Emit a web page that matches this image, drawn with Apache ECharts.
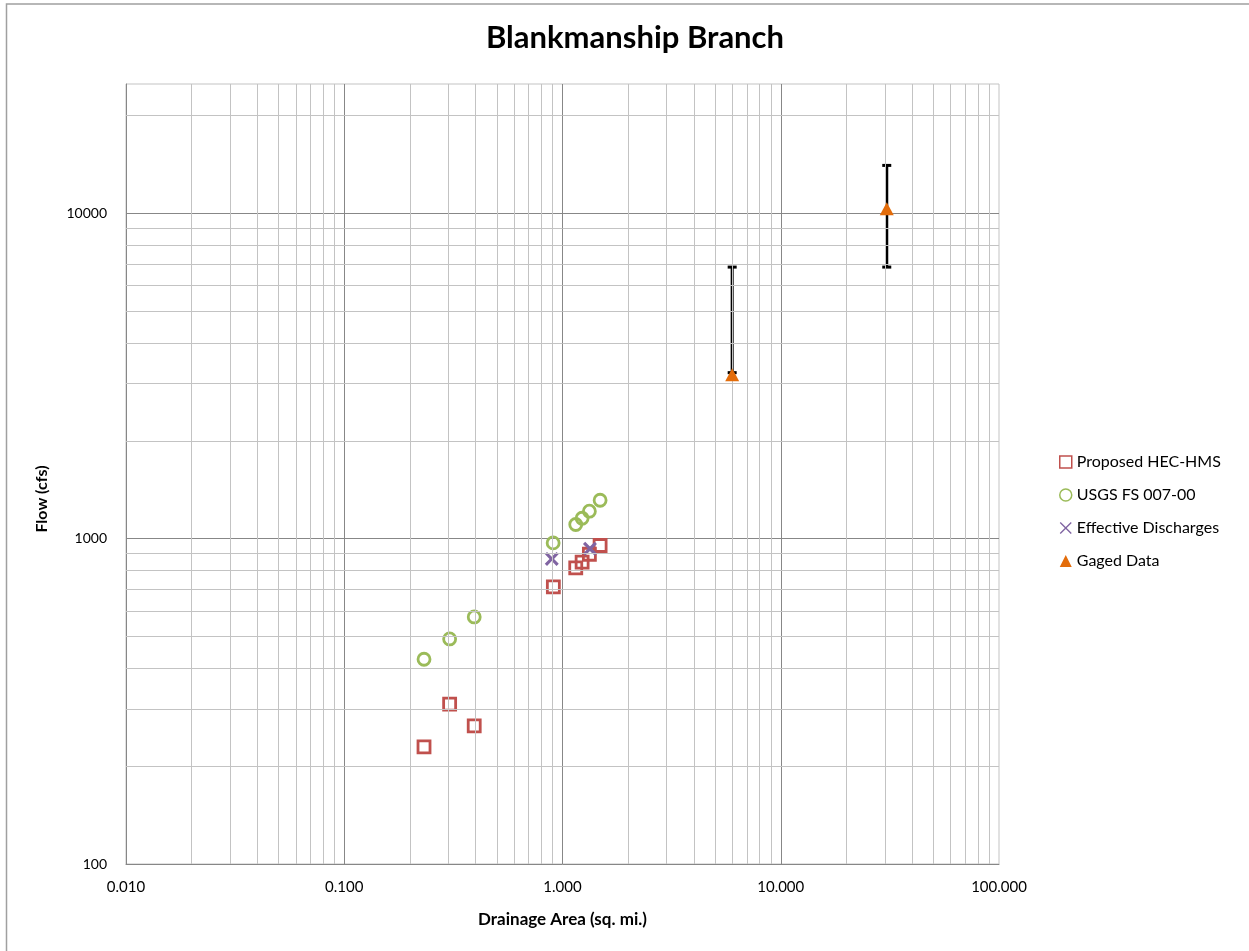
<!DOCTYPE html>
<html>
<head>
<meta charset="utf-8">
<script src="https://cdn.jsdelivr.net/npm/echarts@6/dist/echarts.min.js"></script>
<style>
  html, body { margin: 0; padding: 0; background: #fff; }
  #chart { width: 1249px; height: 951px; }
</style>
</head>
<body>
<div id="chart"></div>
<script>
// Drainage area (sq. mi.) vs. peak flow (cfs)
const proposedArea = [0.232, 0.304, 0.394, 0.908, 1.15, 1.23, 1.328, 1.487];
const proposedFlow = [229, 310, 266, 711, 813, 847, 896, 953];
const usgsArea = [0.232, 0.304, 0.394, 0.906, 1.15, 1.23, 1.328, 1.487];
const usgsFlow = [426, 492, 575, 971, 1106, 1156, 1215, 1313];
const effectiveArea = [0.893, 1.336];
const effectiveFlow = [867, 931];
const gagedArea = [5.99, 30.6];
const gagedFlow = [3195, 10340];
const gagedLow = [3240, 6840];
const gagedHigh = [6840, 14050];
const seriesNames = ['Proposed HEC-HMS', 'USGS FS 007-00', 'Effective Discharges', 'Gaged Data'];
const xMajorTicks = [0.01, 0.1, 1, 10, 100];
const yMajorTicks = [100, 1000, 10000];

const FONT = 'Lato, "Open Sans", sans-serif';
const RED = '#C0504D', GREEN = '#9BBB59', PURPLE = '#8064A2', ORANGE = '#E36C0A';
const MAJOR = '#878787', MINOR = '#C3C3C3';

function pairs(xs, ys) { return xs.map((x, i) => [x, ys[i]]); }

// Filled X-shaped path, arm thickness set by t (box 0..10)
function crossPath(t) {
  return 'path://M' + t + ',0L5,' + (5 - t) + 'L' + (10 - t) + ',0L10,' + t + 'L' + (5 + t) + ',5L10,' + (10 - t) +
    'L' + (10 - t) + ',10L5,' + (5 + t) + 'L' + t + ',10L0,' + (10 - t) + 'L' + (5 - t) + ',5L0,' + t + 'Z';
}

// Minor log gridlines at 2..9 of each decade
function minorLines(from, to, limit) {
  const out = [];
  for (let d = from; d <= to; d++) {
    for (let k = 2; k <= 9; k++) {
      const v = +(k * Math.pow(10, d)).toPrecision(6);
      if (v < limit) out.push(v);
    }
  }
  return out;
}
const xMinor = minorLines(-2, 1, 100);
const yMinor = minorLines(2, 4, 25000);

const chart = echarts.init(document.getElementById('chart'), null, { renderer: 'canvas' });

const option = {
  backgroundColor: '#fff',
  animation: false,
  textStyle: { fontFamily: FONT },
  title: {
    text: 'Blankmanship Branch',
    left: 630, top: 17, textAlign: 'center',
    textStyle: { fontFamily: FONT, fontSize: 31, fontWeight: 'bold', color: '#000' }
  },
  grid: {
    left: 126, right: 250, top: 84, bottom: 87,
    show: true, borderColor: MINOR, borderWidth: 1, backgroundColor: 'transparent'
  },
  legend: {
    orient: 'vertical', left: 1054, top: 449, itemGap: 17,
    itemWidth: 12, itemHeight: 12,
    textStyle: { fontFamily: FONT, fontSize: 16, color: '#000' },
    data: [
      { name: seriesNames[0], icon: 'rect', itemStyle: { color: 'transparent', borderColor: RED, borderWidth: 1.5, opacity: 1 } },
      { name: seriesNames[1], icon: 'circle', itemStyle: { color: 'transparent', borderColor: GREEN, borderWidth: 1.5, opacity: 1 } },
      { name: seriesNames[2], icon: crossPath(0.8), itemStyle: { color: PURPLE, borderWidth: 0, opacity: 1 } },
      { name: seriesNames[3], icon: 'triangle', itemStyle: { color: ORANGE, borderWidth: 0, opacity: 1 } }
    ],
    selectedMode: false
  },
  xAxis: {
    type: 'log', logBase: 10, min: 0.01, max: 100,
    name: 'Drainage Area (sq. mi.)', nameLocation: 'middle', nameGap: 47,
    nameTextStyle: { fontFamily: FONT, fontSize: 17, fontWeight: 'bold', color: '#000' },
    axisLine: { show: true, lineStyle: { color: MAJOR, width: 1 } },
    axisTick: { show: false },
    axisLabel: {
      margin: 16, fontFamily: FONT, fontSize: 15, color: '#000',
      formatter: v => (xMajorTicks.some(t => Math.abs(t - v) / t < 1e-6) ? v.toFixed(3) : '')
    },
    splitLine: { show: true, showMinLine: false, showMaxLine: false, lineStyle: { color: MAJOR, width: 1 } }
  },
  yAxis: {
    type: 'log', logBase: 10, min: 100, max: 25000,
    axisLine: { show: true, lineStyle: { color: MAJOR, width: 1 } },
    axisTick: { show: false },
    axisLabel: {
      margin: 19, fontFamily: FONT, fontSize: 14, color: '#000',
      formatter: v => (yMajorTicks.some(t => Math.abs(t - v) / t < 1e-6) ? String(Math.round(v)) : '')
    },
    splitLine: { show: true, showMinLine: false, showMaxLine: false, lineStyle: { color: MAJOR, width: 1 } }
  },
  series: [
    {
      // minor gridlines
      name: 'grid-minor', type: 'line', data: [], silent: true, z: 0,
      markLine: {
        silent: true, symbol: ['none', 'none'], animation: false,
        label: { show: false },
        emphasis: { disabled: true },
        lineStyle: { color: MINOR, width: 1, type: 'solid' },
        data: xMinor.map(v => ({ xAxis: v })).concat(yMinor.map(v => ({ yAxis: v })))
      }
    },
    {
      name: seriesNames[0], type: 'scatter', z: 3,
      symbol: 'rect', symbolSize: 12,
      itemStyle: { color: 'transparent', borderColor: RED, borderWidth: 2.8, opacity: 1 },
      data: pairs(proposedArea, proposedFlow)
    },
    {
      name: seriesNames[1], type: 'scatter', z: 3,
      symbol: 'circle', symbolSize: 12,
      itemStyle: { color: 'transparent', borderColor: GREEN, borderWidth: 2.8, opacity: 1 },
      data: pairs(usgsArea, usgsFlow)
    },
    {
      name: seriesNames[2], type: 'scatter', z: 4,
      symbol: crossPath(1.6), symbolSize: 14,
      itemStyle: { color: PURPLE, borderWidth: 0, opacity: 1 },
      data: pairs(effectiveArea, effectiveFlow)
    },
    {
      // error bars for gaged data
      name: 'gaged-range', type: 'custom', z: 4, silent: true,
      renderItem: function (params, api) {
        const lo = api.coord([api.value(0), api.value(1)]);
        const hi = api.coord([api.value(0), api.value(2)]);
        const cap = 4.5;
        const style = { stroke: '#000', lineWidth: 3, fill: null };
        return {
          type: 'group',
          children: [
            { type: 'line', shape: { x1: lo[0], y1: lo[1], x2: hi[0], y2: hi[1] }, style: style },
            { type: 'line', shape: { x1: lo[0] - cap, y1: lo[1], x2: lo[0] + cap, y2: lo[1] }, style: style },
            { type: 'line', shape: { x1: hi[0] - cap, y1: hi[1], x2: hi[0] + cap, y2: hi[1] }, style: style }
          ]
        };
      },
      data: gagedArea.map((x, i) => [x, gagedLow[i], gagedHigh[i]])
    },
    {
      name: seriesNames[3], type: 'scatter', z: 5,
      symbol: 'triangle', symbolSize: [14, 13],
      itemStyle: { color: ORANGE, opacity: 1 },
      data: pairs(gagedArea, gagedFlow)
    }
  ],
  graphic: [
    {
      type: 'text', silent: true,
      x: 42, y: 499, rotation: Math.PI / 2,
      style: {
        text: 'Flow (cfs)', fontFamily: FONT, fontSize: 16, fontWeight: 'bold', fill: '#000',
        align: 'center', verticalAlign: 'middle'
      }
    },
    {
      type: 'rect', silent: true, z: 100,
      shape: { x: 6.5, y: 4, width: 1300, height: 1000 },
      style: { fill: null, stroke: '#A0A0A0', lineWidth: 1.5 }
    }
  ]
};

chart.setOption(option);
</script>
</body>
</html>
